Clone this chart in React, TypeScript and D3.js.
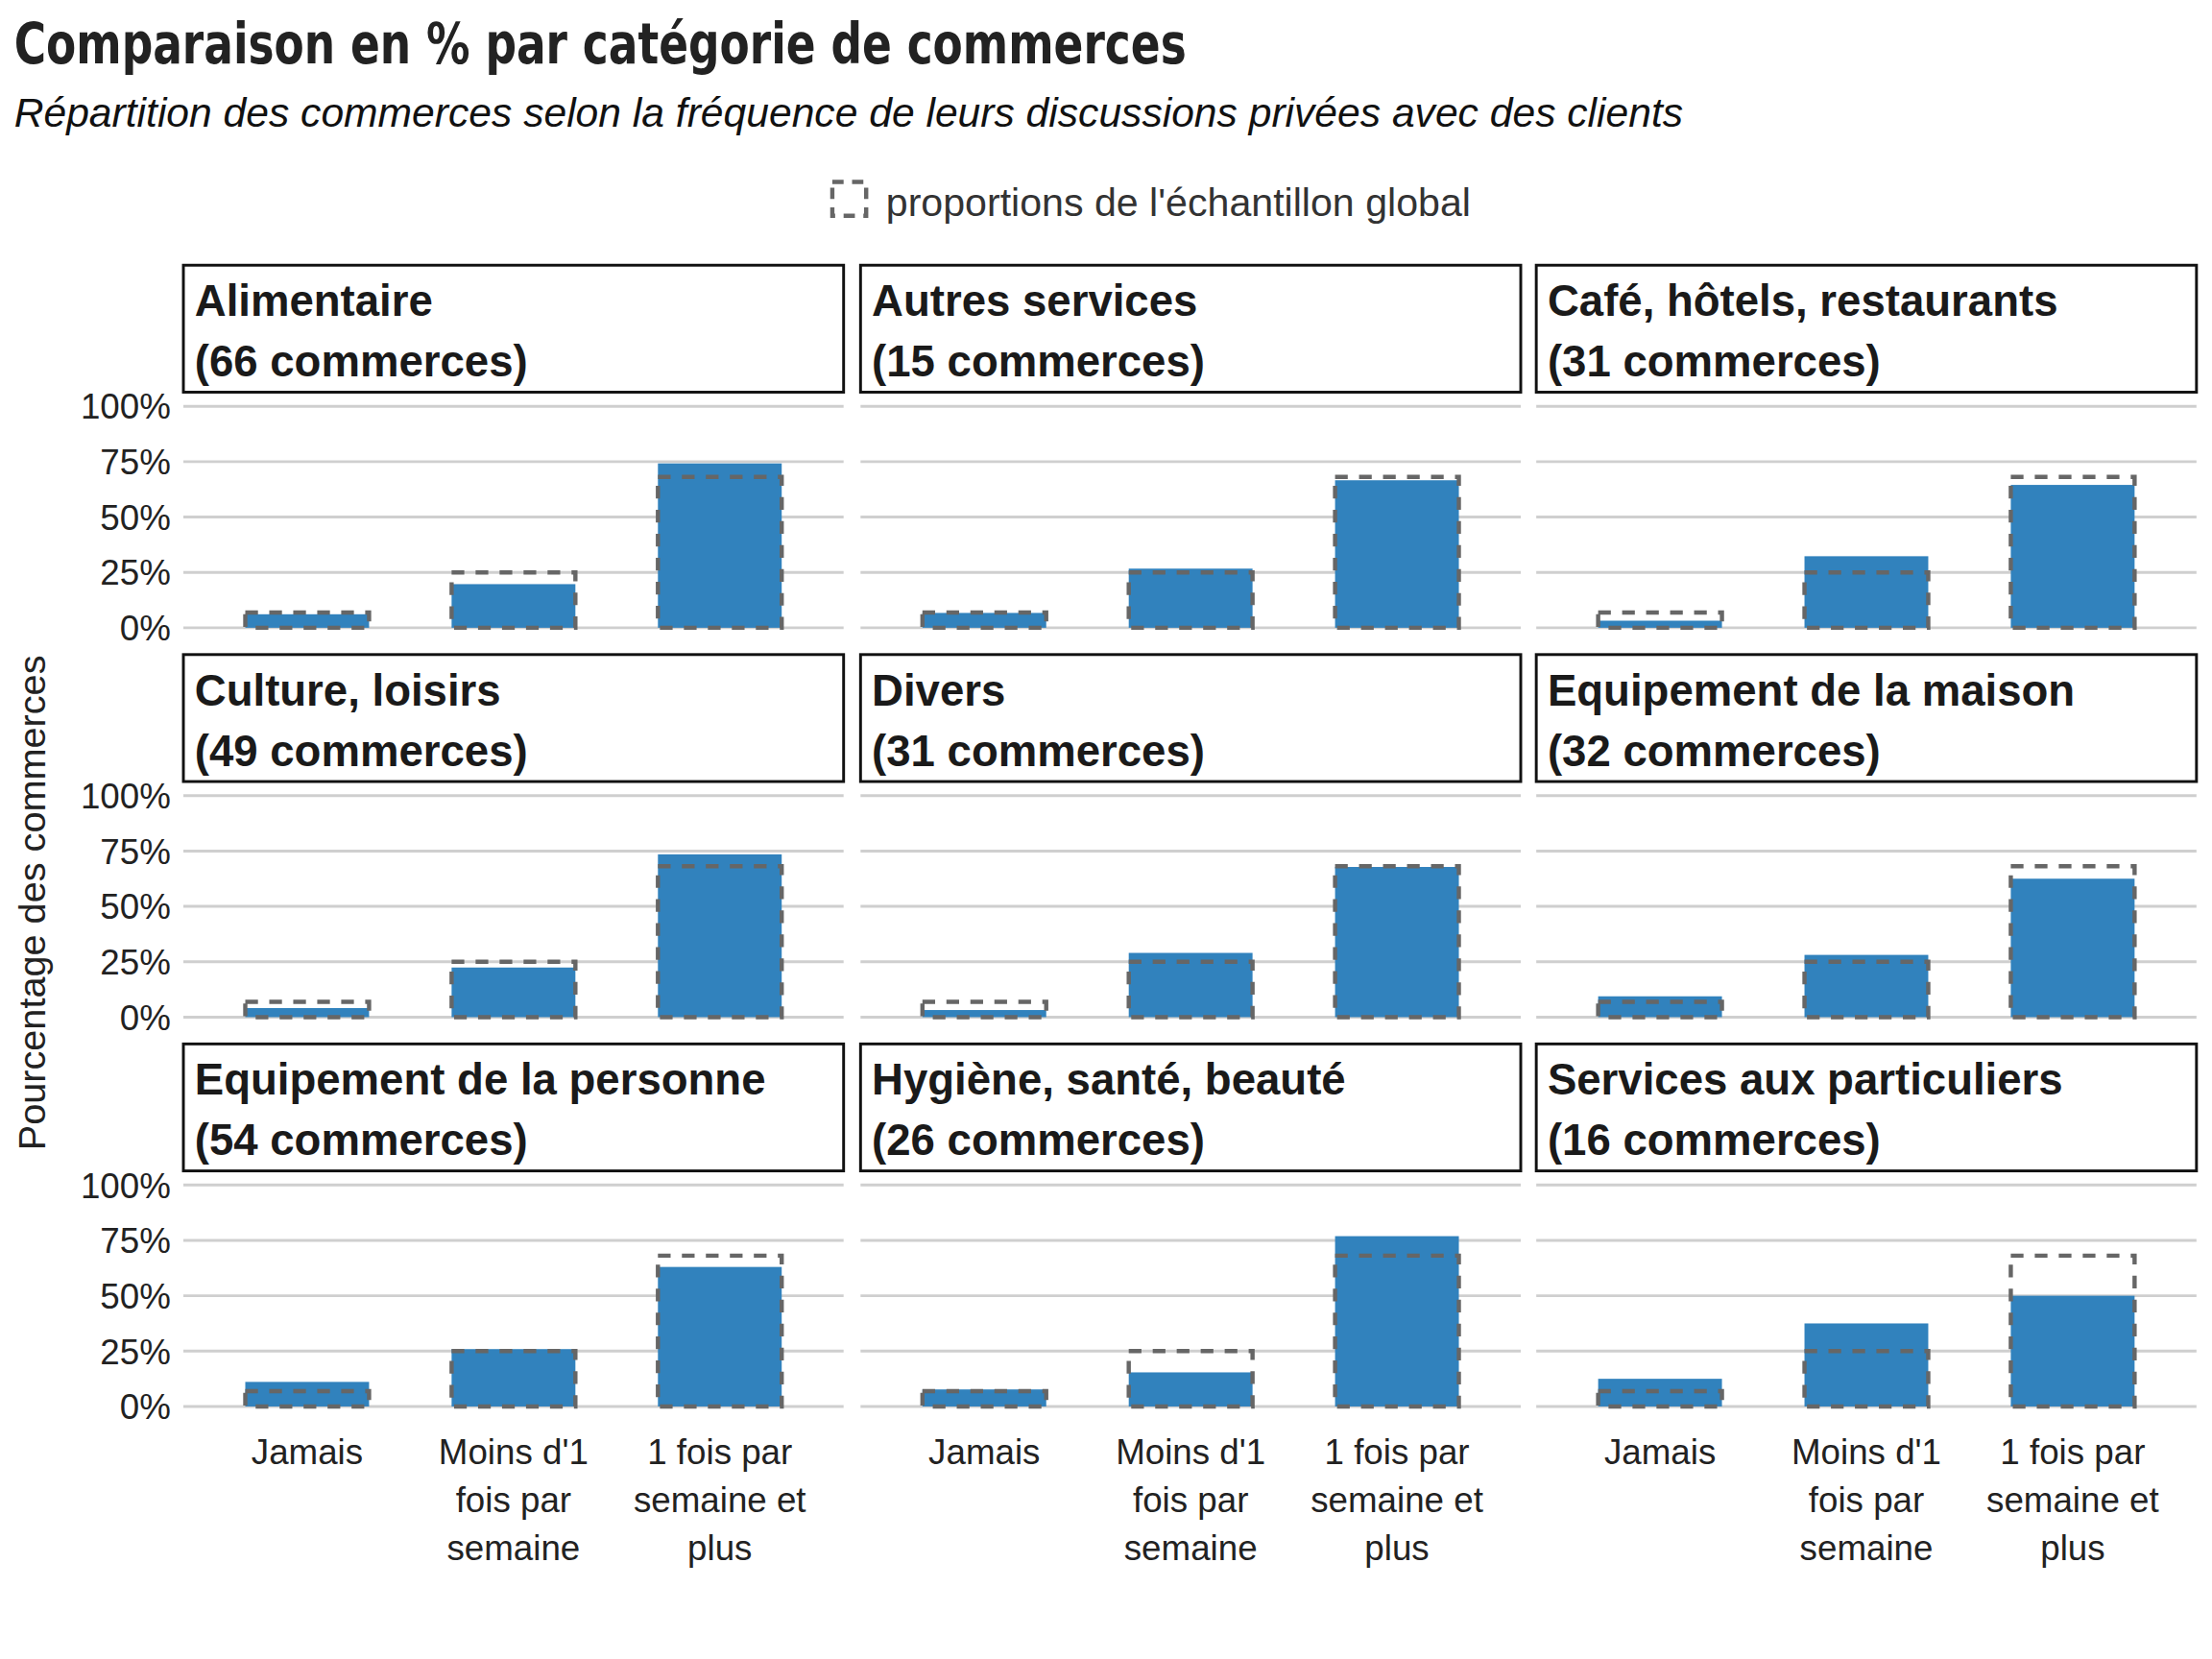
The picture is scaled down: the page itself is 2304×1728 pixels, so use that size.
import React from "react";
import * as d3 from "d3";

const levels = ["Jamais", "Moins d'1 fois par semaine", "1 fois par semaine et plus"];
const levelLines = [["Jamais"], ["Moins d'1", "fois par", "semaine"], ["1 fois par", "semaine et", "plus"]];
const categories = [
  "Alimentaire", "Autres services", "Café, hôtels, restaurants",
  "Culture, loisirs", "Divers", "Equipement de la maison",
  "Equipement de la personne", "Hygiène, santé, beauté", "Services aux particuliers",
];
const counts = [66, 15, 31, 49, 31, 32, 54, 26, 16];
// percentages per category: Jamais, Moins d'1, 1 fois et plus
const shares = [
  [6.1, 19.7, 74.2],
  [6.7, 26.7, 66.6],
  [3.2, 32.3, 64.5],
  [4.1, 22.4, 73.5],
  [3.2, 29.0, 67.8],
  [9.4, 28.1, 62.5],
  [11.1, 25.9, 63.0],
  [7.7, 15.4, 76.9],
  [12.5, 37.5, 50.0],
];
const globalShares = [6.9, 25.0, 68.1];
const yTicks = [0, 25, 50, 75, 100];

const colX = [130, 610, 1089];
const panelW = 468;
const rowTop = [188, 464, 740];
const stripH = 90;

export default function App() {
  const x = d3.scaleLinear().domain([0.4, 3.6]).range([0, panelW]);
  const y = d3.scaleLinear().domain([0, 100]).range([257, 100]);
  const font = "'Liberation Sans', Arial, sans-serif";
  const dash = "#666";

  return (
    <svg width={2304} height={1728} viewBox="0 0 1568 1176"
      style={{ position: "absolute", left: 0, top: 0, background: "#fff" }} fontFamily={font}>
      <defs>
        {categories.map((_, i) => (
          <clipPath id={`clip${i}`} key={i}>
            <rect x={colX[i % 3]} y={rowTop[Math.floor(i / 3)]} width={panelW} height={stripH} />
          </clipPath>
        ))}
      </defs>
      <text x={10} y={45} fontFamily="'Liberation Sans Narrow', 'DejaVu Sans Condensed', sans-serif"
        fontWeight="bold" fontSize={40} fill="#222" transform="translate(10,45) scale(0.86,1) translate(-10,-45)">
        Comparaison en % par catégorie de commerces
      </text>
      <text x={10} y={90} fontStyle="italic" fontSize={29} fill="#111">
        Répartition des commerces selon la fréquence de leurs discussions privées avec des clients
      </text>
      <rect x={590} y={129} width={24} height={24} fill="none" stroke={dash} strokeWidth={3} strokeDasharray="8,6" />
      <text x={628} y={153} fontSize={28} fill="#333">proportions de l'échantillon global</text>
      <text transform="translate(32,640) rotate(-90)" textAnchor="middle" fontSize={27} fill="#222">
        Pourcentage des commerces
      </text>
      {categories.map((cat, i) => {
        const cx = colX[i % 3];
        const top = rowTop[Math.floor(i / 3)];
        const row = Math.floor(i / 3);
        return (
          <g key={cat}>
            <rect x={cx} y={top} width={panelW} height={stripH} fill="#fff" stroke="#111" strokeWidth={2} />
            <g clipPath={`url(#clip${i})`} fontWeight="bold" fontSize={31} fill="#1a1a1a">
              <text x={cx + 8} y={top + 36}>{cat}</text>
              <text x={cx + 8} y={top + 79}>({counts[i]} commerces)</text>
            </g>
            <g transform={`translate(${cx},${top})`}>
              {yTicks.map((t) => (
                <line key={t} x1={0} x2={panelW} y1={y(t)} y2={y(t)} stroke="#cfcfcf" strokeWidth={2} />
              ))}
              {i % 3 === 0 && yTicks.map((t) => (
                <text key={t} x={-9} y={y(t) + 9} textAnchor="end" fontSize={25} fill="#222">{t}%</text>
              ))}
              {shares[i].map((v, j) => (
                <rect key={j} x={x(j + 1 - 0.3)} width={x(1.6) - x(1)} y={y(v)} height={y(0) - y(v)} fill="#3182bd" />
              ))}
              {globalShares.map((v, j) => (
                <rect key={j} x={x(j + 1 - 0.3)} width={x(1.6) - x(1)} y={y(v)} height={y(0) - y(v)}
                  fill="none" stroke={dash} strokeWidth={3} strokeDasharray="9,8" />
              ))}
              {row === 2 && levelLines.map((lines, j) => lines.map((l, k) => (
                <text key={`${j}-${k}`} x={x(j + 1)} y={298 + k * 34} textAnchor="middle" fontSize={25} fill="#222">{l}</text>
              )))}
            </g>
          </g>
        );
      })}
    </svg>
  );
}
